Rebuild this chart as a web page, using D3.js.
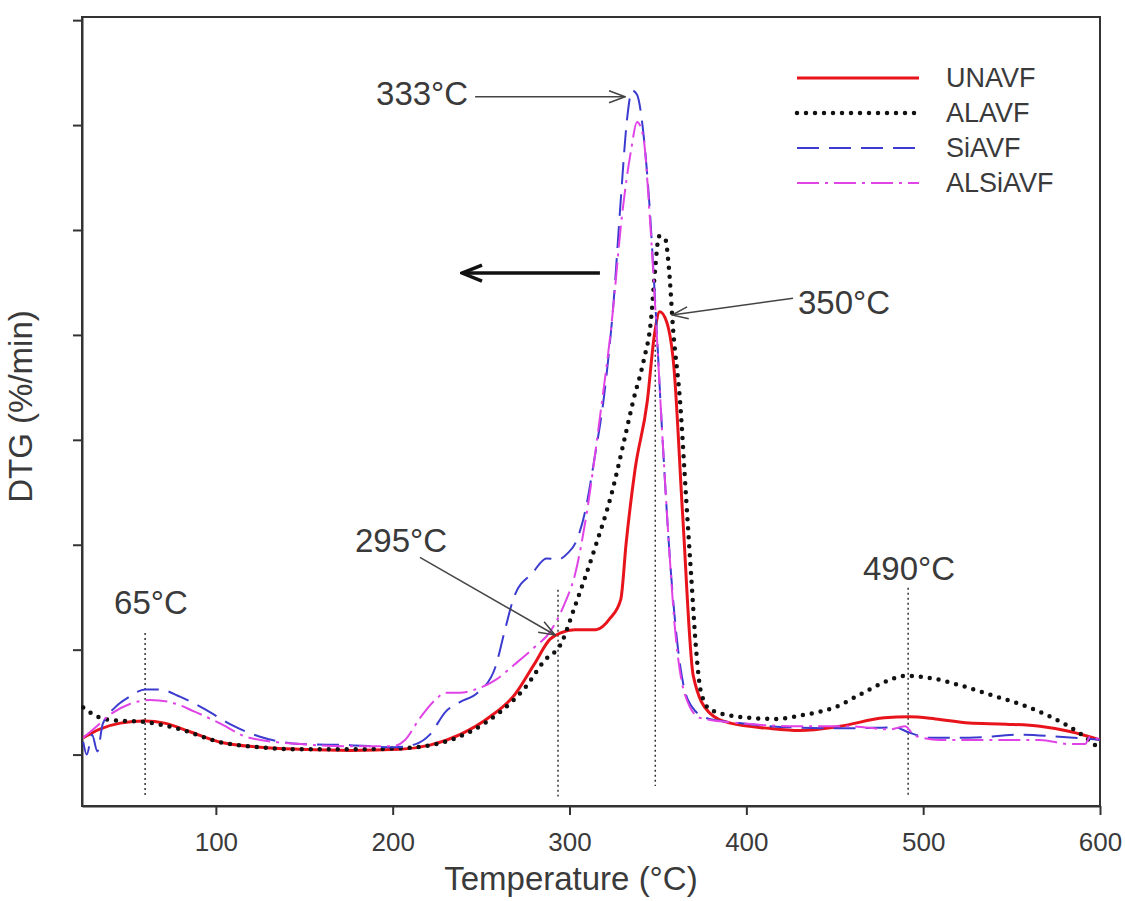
<!DOCTYPE html>
<meta charset="utf-8">
<script src="https://cdn.jsdelivr.net/npm/d3@7"></script>
<style>
body { margin: 0; background: #fff; }
text { font-family: "Liberation Sans", Arial, sans-serif; fill: #3a3a3a; }
.axis path, .axis line { stroke: #333; stroke-width: 2px; }
.axis text { font-size: 26px; }
.frame { fill: none; stroke: #333; stroke-width: 2px; }
.guide { stroke: #333; stroke-width: 1.5px; stroke-dasharray: 2 3; }
.note { font-size: 33px; }
.leg text { font-size: 27px; }
</style>
<body>
<svg id="chart"></svg>
<script>

// temperature (°C) and DTG (tick units)
var unavfT = [25,34,46,60,71,85,102,125,148,176,204,221,238,255,269,280,289,295,303,315,323,329,332,337,344,348,351,355,359,364,370,379,391,413,430,453,478,492,507,526,547,566,583,600];
var unavfV = [0.16,0.24,0.30,0.32,0.30,0.22,0.12,0.07,0.05,0.04,0.05,0.09,0.19,0.36,0.57,0.86,1.10,1.16,1.19,1.19,1.30,1.48,2.01,2.71,3.37,4.00,4.22,4.12,3.70,2.28,0.75,0.40,0.30,0.25,0.23,0.27,0.35,0.36,0.34,0.30,0.29,0.27,0.22,0.14];

var alavfT = [25,32,40,60,80,102,125,148,176,204,227,244,261,275,286,295,303,314,324,331,336,342,346,348.4,350.6,354,356.3,358.6,362.5,366,368.7,371.6,374.4,379.5,396,417,433,450,464,478,490,504,521,538,555,572,588,600];
var alavfV = [0.45,0.37,0.33,0.31,0.24,0.12,0.07,0.05,0.05,0.06,0.11,0.22,0.41,0.64,0.90,1.05,1.41,1.95,2.50,3.00,3.37,3.76,4.13,4.62,4.94,4.92,4.62,4.05,3.37,2.43,1.73,1.00,0.59,0.43,0.36,0.34,0.38,0.45,0.57,0.69,0.75,0.73,0.66,0.57,0.48,0.36,0.21,0.05];

var siavfT = [25,27,30,33,36,43,51,60,68,80,94,108,125,148,176,201,213,221,230,238,248,258,263.5,269,279,287,293.5,299,304,309,314,320,325,329,332.5,335.4,338.2,341.6,345,348.4,352.3,356.8,361.4,367,377,396,425,459,484,492,504,526,555,577,600];
var siavfV = [0.12,0.00,0.19,0.03,0.29,0.45,0.55,0.62,0.62,0.55,0.43,0.29,0.17,0.10,0.09,0.07,0.10,0.19,0.41,0.50,0.59,0.83,1.19,1.52,1.73,1.87,1.86,1.92,2.04,2.33,2.81,3.48,4.33,5.29,6.05,6.33,6.29,5.95,5.29,4.33,3.10,1.86,1.00,0.52,0.35,0.30,0.26,0.25,0.26,0.21,0.16,0.16,0.19,0.17,0.14];

var alsiavfT = [25,32,40,51,63,74,88,102,119,148,176,200,207,215.5,224,230,238,246.6,258,269,280,289,297,303,310,317,324,329.7,334.8,338.2,341.6,345.5,348.9,352.3,355.7,359.7,365.3,373.8,396,430,459,481,489.7,495.4,509.5,538,566,583,591.6,594.4,600];
var alsiavfV = [0.16,0.26,0.38,0.48,0.52,0.50,0.41,0.30,0.16,0.10,0.08,0.08,0.14,0.35,0.52,0.59,0.59,0.62,0.71,0.86,1.02,1.17,1.43,1.71,2.33,3.19,4.14,5.14,5.76,6.03,5.90,5.10,4.14,3.10,2.14,1.19,0.57,0.35,0.30,0.27,0.27,0.24,0.27,0.18,0.14,0.14,0.14,0.10,0.10,0.17,0.14];

var seriesNames = ["UNAVF", "ALAVF", "SiAVF", "ALSiAVF"];
var xTicks = [100, 200, 300, 400, 500, 600];
var yTicks = [0, 1, 2, 3, 4, 5, 6, 7];

// peak markers: temperature, label, guide top (DTG units)
var guideT = [60, 293.5, 348.5, 491.5];
var guideTop = [1.16, 1.57, 4.05, 1.59];

var series = [
  {name: seriesNames[0], t: unavfT, v: unavfV, color: "#e8141c", width: 3, dash: null, cap: "butt"},
  {name: seriesNames[1], t: alavfT, v: alavfV, color: "#111", width: 4.5, dash: "0 9", cap: "round"},
  {name: seriesNames[2], t: siavfT, v: siavfV, color: "#3b3bd0", width: 2, dash: "22 10", cap: "butt"},
  {name: seriesNames[3], t: alsiavfT, v: alsiavfV, color: "#e043e6", width: 2, dash: "22 6 3 6", cap: "butt"}
];

var W = 1125, H = 901;
var margin = {top: 17, right: 25, bottom: 95, left: 82};
var width = W - margin.left - margin.right,
    height = H - margin.top - margin.bottom;

var root = d3.select("#chart").attr("width", W).attr("height", H);

var svg = root.append("g")
    .attr("transform", "translate(" + margin.left + "," + margin.top + ")");

var x = d3.scaleLinear().domain([24.3, 600]).range([0, width]);
var y = d3.scaleLinear().domain([-0.49, 7.03]).range([height, 0]);

var defs = root.append("defs");
defs.append("marker")
    .attr("id", "head")
    .attr("viewBox", "0 -8 18 16")
    .attr("refX", 17).attr("refY", 0)
    .attr("markerWidth", 18).attr("markerHeight", 16)
    .attr("markerUnits", "userSpaceOnUse")
    .attr("orient", "auto")
  .append("path")
    .attr("d", "M1,-6L17,0L1,6")
    .attr("fill", "none").attr("stroke", "#444").attr("stroke-width", 1.5);
defs.append("marker")
    .attr("id", "bighead")
    .attr("viewBox", "0 -10 24 20")
    .attr("refX", 22).attr("refY", 0)
    .attr("markerWidth", 24).attr("markerHeight", 20)
    .attr("markerUnits", "userSpaceOnUse")
    .attr("orient", "auto")
  .append("path")
    .attr("d", "M2,-8L22,0L2,8")
    .attr("fill", "none").attr("stroke", "#111").attr("stroke-width", 3.5);

// axes
svg.append("g")
    .attr("class", "x axis")
    .attr("transform", "translate(0," + height + ")")
    .call(d3.axisBottom(x).tickValues(xTicks).tickSize(9).tickPadding(18).tickSizeOuter(0));

svg.append("g")
    .attr("class", "y axis")
    .call(d3.axisLeft(y).tickValues(yTicks).tickSize(9).tickFormat("").tickSizeOuter(0));

svg.append("rect")
    .attr("class", "frame")
    .attr("width", width).attr("height", height);

// vertical guides at peaks
svg.selectAll(".guide")
  .data(guideT).enter().append("line")
    .attr("class", "guide")
    .attr("x1", function(d) { return x(d); })
    .attr("x2", function(d) { return x(d); })
    .attr("y1", function(d, i) { return y(guideTop[i]); })
    .attr("y2", function(d, i) { return i == 2 ? y(-0.3) : y(-0.4); });

// curves
var line = d3.line()
    .x(function(d) { return x(d[0]); })
    .y(function(d) { return y(d[1]); })
    .curve(d3.curveMonotoneX);

svg.selectAll(".curve")
  .data(series).enter().append("path")
    .attr("class", "curve")
    .attr("fill", "none")
    .attr("stroke", function(d) { return d.color; })
    .attr("stroke-width", function(d) { return d.width; })
    .attr("stroke-dasharray", function(d) { return d.dash; })
    .attr("stroke-linecap", function(d) { return d.cap; })
    .attr("d", function(d) { return line(d.t.map(function(t, i) { return [t, d.v[i]]; })); });

// annotations
function arrow(t1, v1, t2, v2, big) {
  svg.append("line")
      .attr("x1", x(t1)).attr("y1", y(v1))
      .attr("x2", x(t2)).attr("y2", y(v2))
      .attr("stroke", big ? "#111" : "#444")
      .attr("stroke-width", big ? 3.5 : 1.5)
      .attr("marker-end", big ? "url(#bighead)" : "url(#head)");
}
arrow(246.6, 6.27, 331.4, 6.27);
arrow(426.4, 4.35, 358, 4.19);
arrow(215.4, 1.88, 291.8, 1.14);
arrow(317.2, 4.59, 239.2, 4.59, true);

function note(t, v, txt, anchor) {
  svg.append("text")
      .attr("class", "note")
      .attr("x", x(t)).attr("y", y(v))
      .attr("text-anchor", anchor)
      .text(txt);
}
note(190.6, 6.19, "333°C", "start");
note(429.2, 4.2, "350°C", "start");
note(204.7, 1.93, "295°C", "middle");
note(63.3, 1.34, "65°C", "middle");
note(492, 1.66, "490°C", "middle");

// axis titles
svg.append("text")
    .attr("class", "note")
    .attr("x", x(300.8)).attr("y", height + 84)
    .attr("text-anchor", "middle")
    .text("Temperature (°C)");

svg.append("text")
    .attr("class", "note")
    .attr("transform", "translate(-50," + (height / 2 - 5) + ") rotate(-90)")
    .attr("text-anchor", "middle")
    .text("DTG (%/min)");

// legend
var leg = svg.append("g").attr("class", "leg")
    .attr("transform", "translate(" + (797 - margin.left) + "," + (78 - margin.top) + ")");

var row = leg.selectAll("g").data(series).enter().append("g")
    .attr("transform", function(d, i) { return "translate(0," + i * 35 + ")"; });

row.append("line")
    .attr("x1", 0).attr("x2", 122)
    .attr("stroke", function(d) { return d.color; })
    .attr("stroke-width", function(d) { return d.width; })
    .attr("stroke-dasharray", function(d) { return d.dash; })
    .attr("stroke-linecap", function(d) { return d.cap; });

row.append("text")
    .attr("x", 149).attr("dy", "0.35em")
    .text(function(d) { return d.name; });

</script>
</body>
